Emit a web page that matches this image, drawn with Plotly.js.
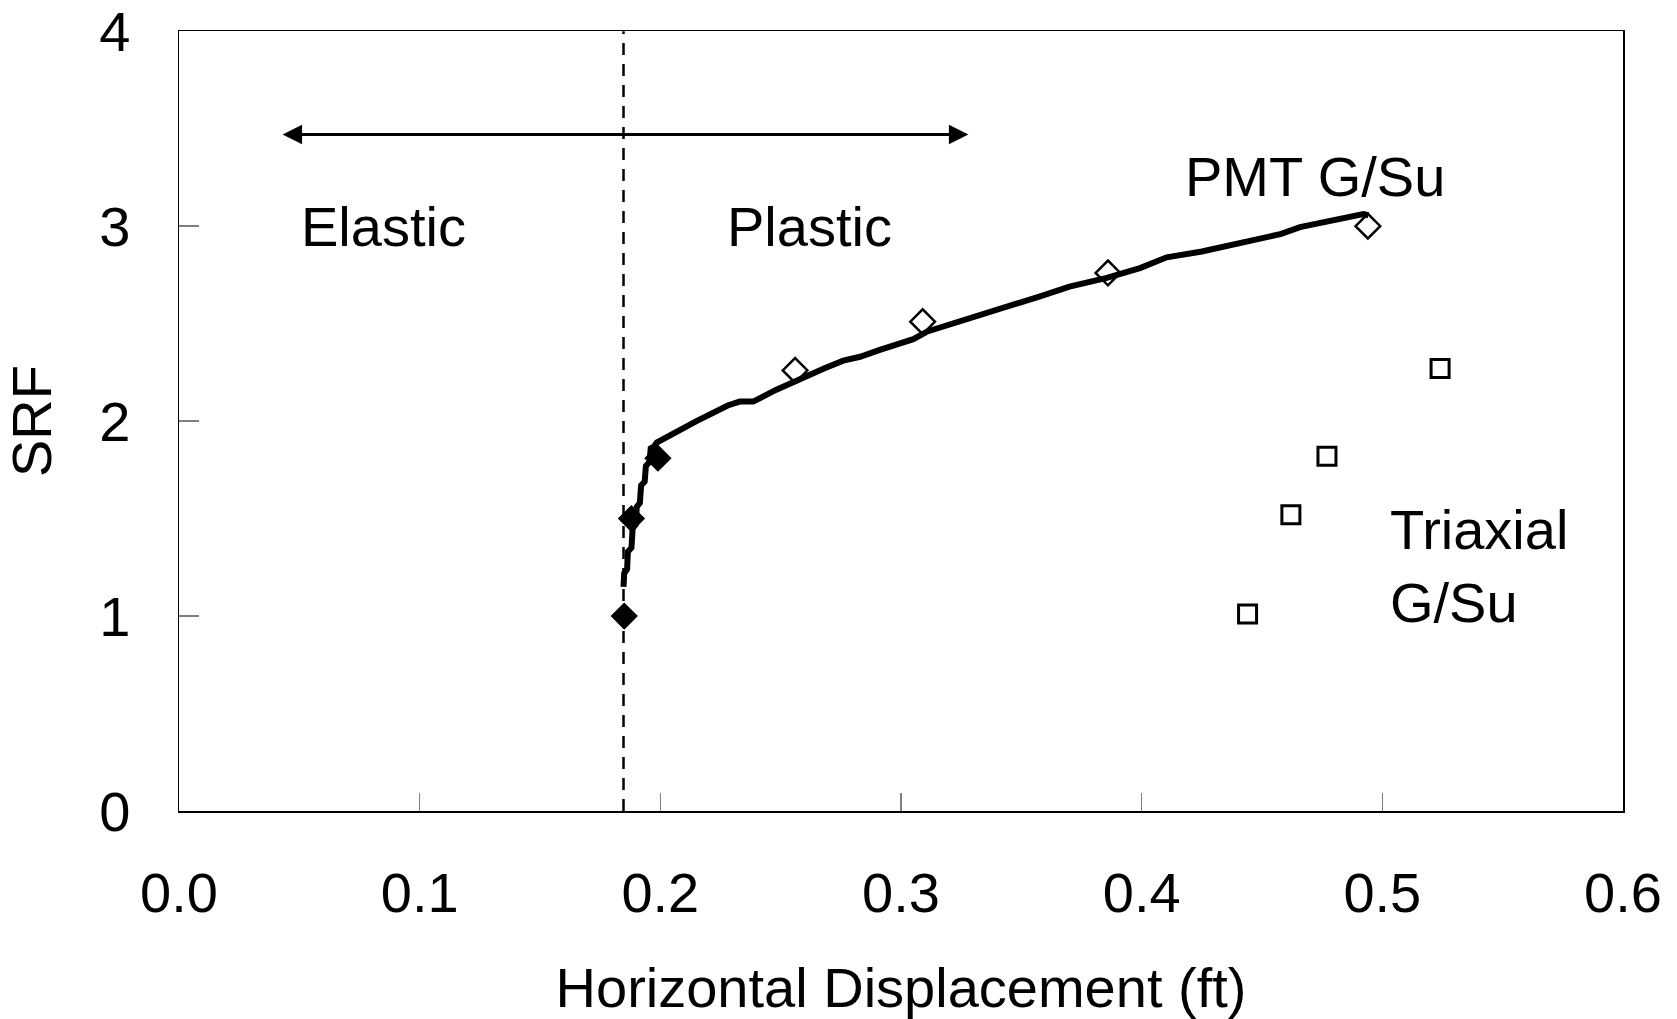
<!DOCTYPE html>
<html>
<head>
<meta charset="utf-8">
<script src="https://cdn.plot.ly/plotly-3.0.1.min.js"></script>
<style>html,body{margin:0;padding:0;background:#fff;}#chart{width:1677px;height:1019px;}</style>
</head>
<body>
<div id="chart"></div>
<script>
// PMT G/Su computed curve (horizontal displacement ft, SRF)
const curveX = [0.1847,0.1850,0.1862,0.1865,0.1880,0.1885,0.1898,0.1902,0.1915,0.1920,0.1935,0.1940,0.1955,0.1960,0.1975,0.1985,
  0.2150,0.2280,0.2330,0.2386,0.2480,0.2608,0.2680,0.2760,0.2830,0.2912,0.3000,0.3051,0.3110,0.3163,0.3250,0.3370,0.3470,
  0.3578,0.3700,0.3780,0.3855,0.3993,0.4104,0.4250,0.4381,0.4500,0.4580,0.4658,0.4760,0.4838,0.4921,0.4942];
const curveY = [1.15,1.22,1.24,1.33,1.35,1.45,1.47,1.56,1.58,1.67,1.69,1.77,1.79,1.86,1.87,1.89,
  2.00,2.08,2.10,2.10,2.16,2.235,2.27,2.31,2.33,2.365,2.40,2.42,2.46,2.48,2.51,2.56,2.60,
  2.64,2.69,2.71,2.735,2.785,2.84,2.87,2.905,2.94,2.96,2.995,3.02,3.04,3.062,3.056];

// Filled diamonds (elastic range points)
const solidX = [0.185, 0.188, 0.199];
const solidY = [1.00, 1.50, 1.81];

// Open diamonds (PMT G/Su)
const pmtX = [0.256, 0.309, 0.386, 0.494];
const pmtY = [2.26, 2.51, 2.76, 3.00];

// Open squares (Triaxial G/Su)
const triX = [0.444, 0.462, 0.477, 0.524];
const triY = [1.01, 1.52, 1.82, 2.27];

// Elastic / plastic boundary
const boundaryX = [0.1847, 0.1847];
const boundaryY = [0, 4];

// Range arrow
const arrowX = [0.0424, 0.328];
const arrowY = 3.47;

const xTicks = [0, 0.1, 0.2, 0.3, 0.4, 0.5, 0.6];
const yTicks = [0, 1, 2, 3, 4];

const FONT = 'Liberation Sans, Arial, sans-serif';
const FS = 56;

const traces = [
  {x: boundaryX, y: boundaryY, mode: 'lines', line: {color: '#000', width: 2.5, dash: '12px,9px'}, hoverinfo: 'skip'},
  {x: curveX, y: curveY, mode: 'lines', line: {color: '#000', width: 6}},
  {x: solidX, y: solidY, mode: 'markers', marker: {symbol: 'diamond', size: 21, color: '#000'}},
  {x: pmtX, y: pmtY, mode: 'markers', marker: {symbol: 'diamond-open', size: 19, color: '#000', line: {width: 2.5, color: '#000'}}},
  {x: triX, y: triY, mode: 'markers', marker: {symbol: 'square-open', size: 18, color: '#000', line: {width: 3, color: '#000'}}}
];

const layout = {
  width: 1677, height: 1019,
  margin: {l: 179, r: 54, t: 31, b: 208},
  paper_bgcolor: '#fff', plot_bgcolor: '#fff',
  showlegend: false,
  font: {family: FONT, size: FS, color: '#000'},
  xaxis: {
    range: [0, 0.6], tickvals: xTicks, tickformat: '.1f',
    ticks: 'inside', ticklen: 18, tickcolor: '#808080', tickwidth: 1.5,
    showline: true, mirror: true, linecolor: '#000', linewidth: 1.5,
    showgrid: false, zeroline: false,
    ticklabelstandoff: 32,
    tickfont: {family: FONT, size: FS, color: '#000'},
    title: {text: 'Horizontal Displacement (ft)', font: {family: FONT, size: FS, color: '#000'}, standoff: 48}
  },
  yaxis: {
    range: [0, 4.001], tickvals: yTicks,
    ticks: 'inside', ticklen: 20, tickcolor: '#808080', tickwidth: 1.5,
    showline: true, mirror: true, linecolor: '#000', linewidth: 1.5,
    showgrid: false, zeroline: false,
    ticklabelstandoff: 36,
    ticklabeloverflow: 'allow',
    tickfont: {family: FONT, size: FS, color: '#000'},
    title: {text: 'SRF', font: {family: FONT, size: FS, color: '#000'}, standoff: 32}
  },
  annotations: [
    {x: arrowX[1], y: arrowY, ax: arrowX[0], ay: arrowY, xref: 'x', yref: 'y', axref: 'x', ayref: 'y',
     text: '', showarrow: true, arrowhead: 2, arrowside: 'end+start', arrowsize: 1.3, arrowwidth: 3, arrowcolor: '#000',
     standoff: 0, startstandoff: 0},
    {x: 0.085, y: 3.0, xref: 'x', yref: 'y', text: 'Elastic', showarrow: false, font: {family: FONT, size: FS, color: '#000'}},
    {x: 0.262, y: 3.0, xref: 'x', yref: 'y', text: 'Plastic', showarrow: false, font: {family: FONT, size: FS, color: '#000'}},
    {x: 0.472, y: 3.254, xref: 'x', yref: 'y', text: 'PMT G/Su', showarrow: false, font: {family: FONT, size: FS, color: '#000'}},
    {x: 0.5024, y: 1.259, xref: 'x', yref: 'y', xanchor: 'left', align: 'left', text: 'Triaxial<br>G/Su', showarrow: false, font: {family: FONT, size: FS, color: '#000'}}
  ]
};

Plotly.newPlot('chart', traces, layout, {displayModeBar: false, staticPlot: true});
</script>
</body>
</html>
